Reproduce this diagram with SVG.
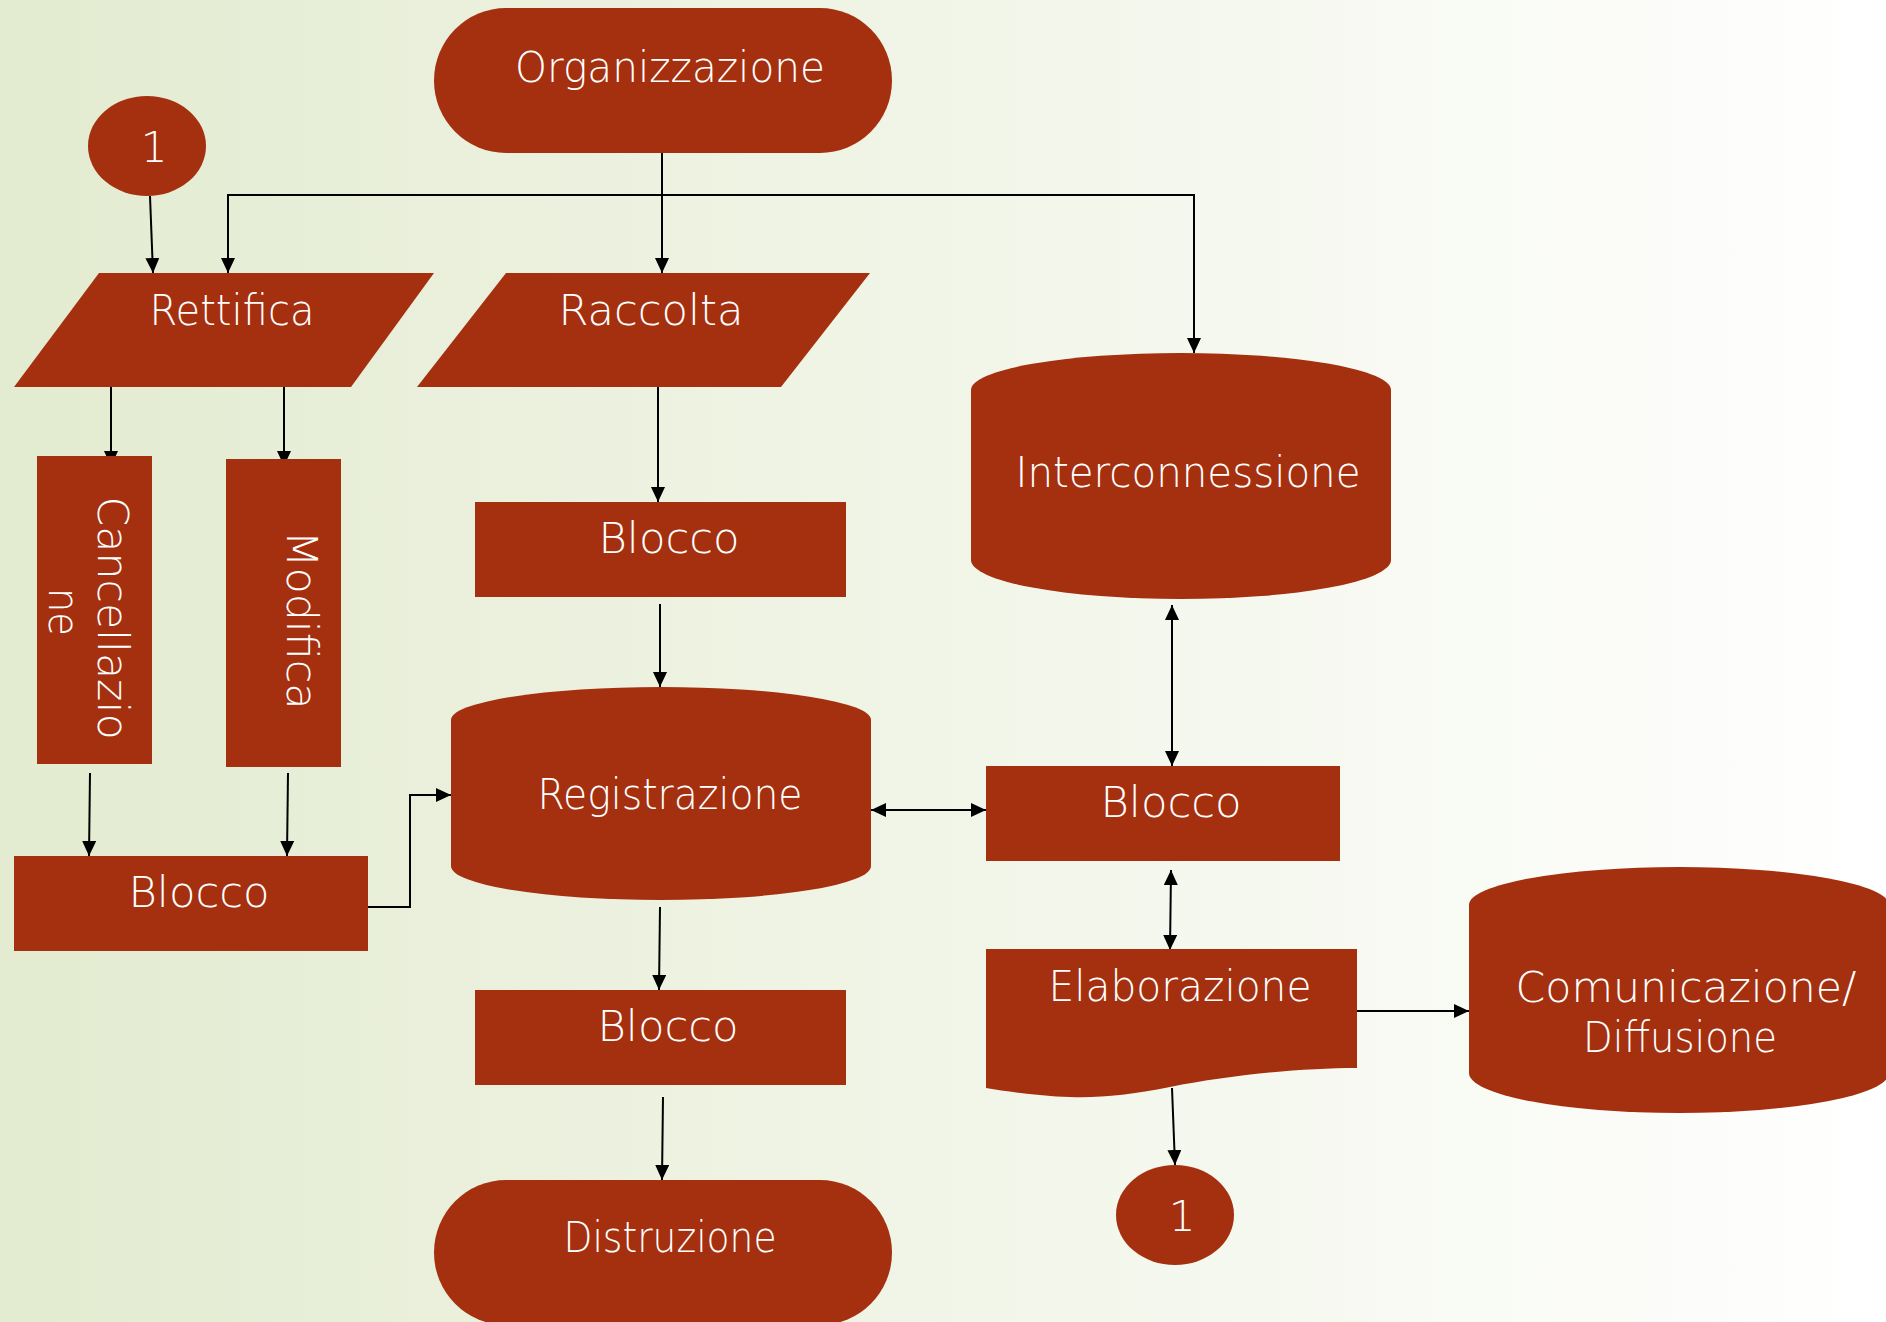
<svg xmlns="http://www.w3.org/2000/svg" width="1886" height="1322" viewBox="0 0 1886 1322">
  <defs>
    <linearGradient id="bg" x1="0" y1="0" x2="1" y2="0">
      <stop offset="0" stop-color="#E3EBD0"/>
      <stop offset="1" stop-color="#FFFFFF"/>
    </linearGradient>
    <marker id="arrow" markerUnits="userSpaceOnUse" markerWidth="15" markerHeight="14" refX="15" refY="7" orient="auto-start-reverse">
      <path d="M0,0 L15,7 L0,14 Z" fill="#000"/>
    </marker>
  </defs>
  <style>
    .shape { fill: #A5300F; }
    .label { fill: #FFFFFF; font-family: "DejaVu Sans", "Liberation Sans", sans-serif; font-size: 42px; font-weight: 300; text-anchor: middle; }
    .link { fill: none; stroke: #000; stroke-width: 2; }
    .one { marker-end: url(#arrow); }
    .both { marker-start: url(#arrow); marker-end: url(#arrow); }
  </style>

  <rect x="0" y="0" width="1886" height="1322" fill="url(#bg)"/>

  <!-- connectors -->
  <g id="connectors">
    <path class="link one" d="M662,153 V273"/>
    <path class="link one" d="M662,195 H228 V273"/>
    <path class="link one" d="M662,195 H1194 V353"/>
    <path class="link one" d="M150,196 L153,273"/>
    <path class="link one" d="M111,387 V466"/>
    <path class="link one" d="M284,387 V466"/>
    <path class="link one" d="M90,773 L89,856"/>
    <path class="link one" d="M288,773 L287,856"/>
    <path class="link one" d="M368,907 H410 V795 H451"/>
    <path class="link one" d="M658,387 V502"/>
    <path class="link one" d="M660,604 V687"/>
    <path class="link one" d="M660,907 L659,990"/>
    <path class="link one" d="M663,1097 L662,1180"/>
    <path class="link both" d="M871,810 H986"/>
    <path class="link both" d="M1172,605 V766"/>
    <path class="link both" d="M1171,870 L1170,950"/>
    <path class="link one" d="M1353,1011 H1469"/>
    <path class="link one" d="M1172,1088 L1175,1165"/>
  </g>

  <!-- start / end terminals -->
  <g id="organizzazione">
    <rect class="shape" x="434" y="8" width="458" height="145" rx="72" ry="72.5"/>
    <text class="label" x="670" y="82" textLength="310" lengthAdjust="spacingAndGlyphs">Organizzazione</text>
  </g>
  <g id="distruzione">
    <rect class="shape" x="434" y="1180" width="458" height="145" rx="72" ry="72.5"/>
    <text class="label" x="670" y="1252" textLength="213" lengthAdjust="spacingAndGlyphs">Distruzione</text>
  </g>

  <!-- off-page connectors -->
  <g id="connettore-1-in">
    <ellipse class="shape" cx="147" cy="146" rx="59" ry="50"/>
    <text class="label" x="154" y="162">1</text>
  </g>
  <g id="connettore-1-out">
    <ellipse class="shape" cx="1175" cy="1215" rx="59" ry="50"/>
    <text class="label" x="1182" y="1231">1</text>
  </g>

  <!-- data inputs -->
  <g id="rettifica">
    <polygon class="shape" points="99,273 434,273 351,387 14,387"/>
    <text class="label" x="232" y="325" textLength="165" lengthAdjust="spacingAndGlyphs">Rettifica</text>
  </g>
  <g id="raccolta">
    <polygon class="shape" points="506,273 870,273 781,387 417,387"/>
    <text class="label" x="651" y="325" textLength="185" lengthAdjust="spacingAndGlyphs">Raccolta</text>
  </g>

  <!-- vertical process boxes -->
  <g id="cancellazione">
    <rect class="shape" x="37" y="456" width="115" height="308"/>
    <g transform="translate(98,618) rotate(90)">
      <text class="label" x="0" y="0" textLength="243" lengthAdjust="spacingAndGlyphs">Cancellazio</text>
      <text class="label" x="-6" y="49" textLength="48" lengthAdjust="spacingAndGlyphs">ne</text>
    </g>
  </g>
  <g id="modifica">
    <rect class="shape" x="226" y="459" width="115" height="308"/>
    <text class="label" transform="translate(287,620) rotate(90)" x="0" y="0" textLength="179" lengthAdjust="spacingAndGlyphs">Modifica</text>
  </g>

  <!-- Blocco process boxes -->
  <g id="blocco-rettifica">
    <rect class="shape" x="14" y="856" width="354" height="95"/>
    <text class="label" x="199" y="907" textLength="141" lengthAdjust="spacingAndGlyphs">Blocco</text>
  </g>
  <g id="blocco-raccolta">
    <rect class="shape" x="475" y="502" width="371" height="95"/>
    <text class="label" x="669" y="553" textLength="141" lengthAdjust="spacingAndGlyphs">Blocco</text>
  </g>
  <g id="blocco-distruzione">
    <rect class="shape" x="475" y="990" width="371" height="95"/>
    <text class="label" x="668" y="1041" textLength="141" lengthAdjust="spacingAndGlyphs">Blocco</text>
  </g>
  <g id="blocco-elaborazione">
    <rect class="shape" x="986" y="766" width="354" height="95"/>
    <text class="label" x="1171" y="817" textLength="141" lengthAdjust="spacingAndGlyphs">Blocco</text>
  </g>

  <!-- stored data -->
  <g id="registrazione">
    <path class="shape" d="M451,720 A210,33 0 0 1 871,720 V866 A210,34 0 0 1 451,866 Z"/>
    <text class="label" x="670" y="809" textLength="265" lengthAdjust="spacingAndGlyphs">Registrazione</text>
  </g>
  <g id="interconnessione">
    <path class="shape" d="M971,390 A210,37 0 0 1 1391,390 V560 A210,39 0 0 1 971,560 Z"/>
    <text class="label" x="1188" y="487" textLength="345" lengthAdjust="spacingAndGlyphs">Interconnessione</text>
  </g>
  <g id="comunicazione">
    <path class="shape" d="M1469,905 A210,38 0 0 1 1889,905 V1073 A210,40 0 0 1 1469,1073 Z"/>
    <text class="label" x="1686" y="1002" textLength="341" lengthAdjust="spacingAndGlyphs">Comunicazione/</text>
    <text class="label" x="1680" y="1052" textLength="194" lengthAdjust="spacingAndGlyphs">Diffusione</text>
  </g>

  <!-- document -->
  <g id="elaborazione">
    <path class="shape" d="M986,949 H1357 V1068 C1300,1068 1230,1075 1170,1087 C1130,1095 1100,1098 1070,1097 C1040,1096 1010,1092 986,1088 Z"/>
    <text class="label" x="1180" y="1001" textLength="263" lengthAdjust="spacingAndGlyphs">Elaborazione</text>
  </g>
</svg>
